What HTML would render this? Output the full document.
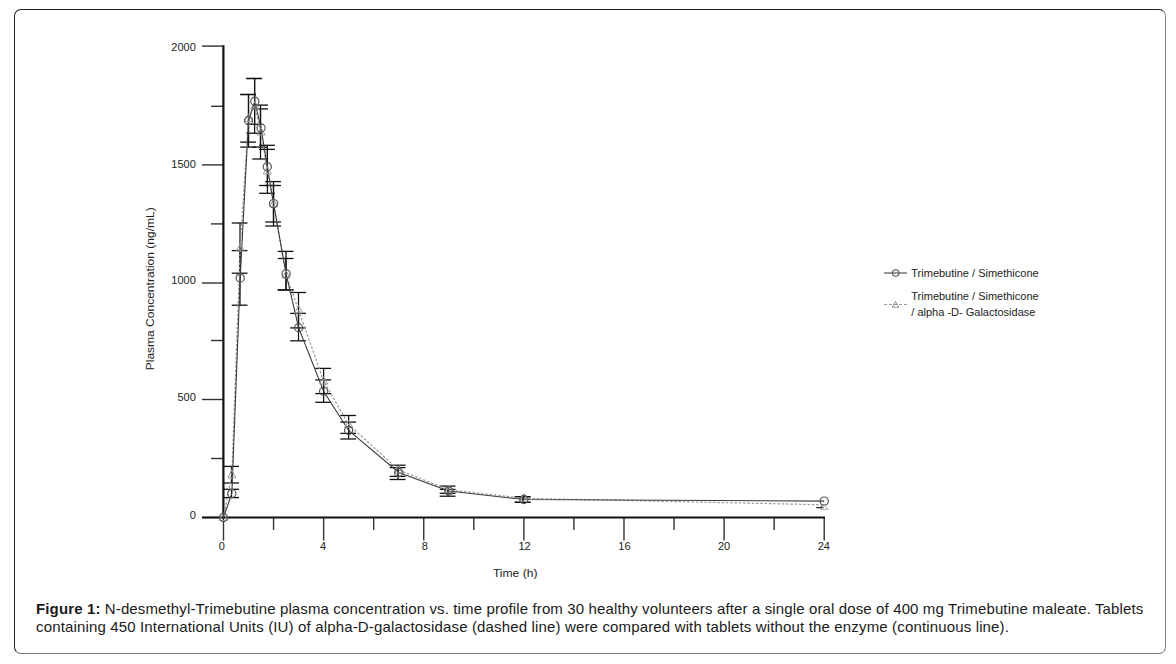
<!DOCTYPE html>
<html><head><meta charset="utf-8">
<style>
html,body{margin:0;padding:0;background:#fff;width:1176px;height:664px;overflow:hidden;}
.box{position:absolute;left:14px;top:9px;width:1152px;height:645px;box-sizing:border-box;border:1px solid;border-color:#222 #808080 #777 #222;border-radius:7px;}
svg{position:absolute;left:0;top:0;}
.tk{font-family:"Liberation Sans",sans-serif;font-size:11px;fill:#222;}
.lg{font-family:"Liberation Sans",sans-serif;font-size:11px;fill:#222;}
.ax{font-family:"Liberation Sans",sans-serif;font-size:11px;fill:#222;}
.cap{position:absolute;left:36px;top:599.7px;font-family:"Liberation Sans",sans-serif;font-size:15px;line-height:18px;letter-spacing:0.13px;color:#1a1a1a;white-space:nowrap;}
</style></head><body>
<div class="box"></div>
<svg width="1176" height="664" viewBox="0 0 1176 664">
<line x1="202" y1="46.10" x2="223.5" y2="46.10" stroke="#333" stroke-width="1.4"/>
<text x="195.8" y="50.80" text-anchor="end" class="tk">2000</text>
<line x1="202" y1="164.90" x2="223.5" y2="164.90" stroke="#333" stroke-width="1.4"/>
<text x="195.8" y="168.40" text-anchor="end" class="tk">1500</text>
<line x1="202" y1="283.00" x2="223.5" y2="283.00" stroke="#333" stroke-width="1.4"/>
<text x="195.8" y="283.90" text-anchor="end" class="tk">1000</text>
<line x1="202" y1="399.50" x2="223.5" y2="399.50" stroke="#333" stroke-width="1.4"/>
<text x="195.8" y="400.90" text-anchor="end" class="tk">500</text>
<line x1="202" y1="517.50" x2="223.5" y2="517.50" stroke="#333" stroke-width="1.4"/>
<text x="195.8" y="519.20" text-anchor="end" class="tk">0</text>
<line x1="211" y1="106.30" x2="223.5" y2="106.30" stroke="#333" stroke-width="1.4"/>
<line x1="211" y1="223.90" x2="223.5" y2="223.90" stroke="#333" stroke-width="1.4"/>
<line x1="211" y1="340.50" x2="223.5" y2="340.50" stroke="#333" stroke-width="1.4"/>
<line x1="211" y1="458.50" x2="223.5" y2="458.50" stroke="#333" stroke-width="1.4"/>
<line x1="223.50" y1="517.5" x2="223.50" y2="540.6" stroke="#333" stroke-width="1.4"/>
<text x="221.90" y="549.7" text-anchor="middle" class="tk">0</text>
<line x1="273.56" y1="517.5" x2="273.56" y2="530" stroke="#333" stroke-width="1.4"/>
<line x1="323.62" y1="517.5" x2="323.62" y2="540.6" stroke="#333" stroke-width="1.4"/>
<text x="323.00" y="549.7" text-anchor="middle" class="tk">4</text>
<line x1="373.68" y1="517.5" x2="373.68" y2="530" stroke="#333" stroke-width="1.4"/>
<line x1="423.74" y1="517.5" x2="423.74" y2="540.6" stroke="#333" stroke-width="1.4"/>
<text x="424.90" y="549.7" text-anchor="middle" class="tk">8</text>
<line x1="473.80" y1="517.5" x2="473.80" y2="530" stroke="#333" stroke-width="1.4"/>
<line x1="523.86" y1="517.5" x2="523.86" y2="540.6" stroke="#333" stroke-width="1.4"/>
<text x="524.50" y="549.7" text-anchor="middle" class="tk">12</text>
<line x1="573.92" y1="517.5" x2="573.92" y2="530" stroke="#333" stroke-width="1.4"/>
<line x1="623.98" y1="517.5" x2="623.98" y2="540.6" stroke="#333" stroke-width="1.4"/>
<text x="624.40" y="549.7" text-anchor="middle" class="tk">16</text>
<line x1="674.04" y1="517.5" x2="674.04" y2="530" stroke="#333" stroke-width="1.4"/>
<line x1="724.10" y1="517.5" x2="724.10" y2="540.6" stroke="#333" stroke-width="1.4"/>
<text x="724.00" y="549.7" text-anchor="middle" class="tk">20</text>
<line x1="774.16" y1="517.5" x2="774.16" y2="530" stroke="#333" stroke-width="1.4"/>
<line x1="824.22" y1="517.5" x2="824.22" y2="540.6" stroke="#333" stroke-width="1.4"/>
<text x="823.80" y="549.7" text-anchor="middle" class="tk">24</text>
<line x1="223.4" y1="45.2" x2="223.4" y2="518.5" stroke="#111" stroke-width="2.2"/>
<line x1="202" y1="517.5" x2="825" y2="517.5" stroke="#111" stroke-width="2"/>
<line x1="231.50" y1="489.30" x2="231.50" y2="497.60" stroke="#111" stroke-width="1.25"/>
<line x1="223.20" y1="489.30" x2="239.00" y2="489.30" stroke="#111" stroke-width="1.3"/>
<line x1="223.20" y1="497.60" x2="239.00" y2="497.60" stroke="#111" stroke-width="1.3"/>
<line x1="240.00" y1="250.60" x2="240.00" y2="305.20" stroke="#111" stroke-width="1.25"/>
<line x1="231.70" y1="250.60" x2="247.50" y2="250.60" stroke="#111" stroke-width="1.3"/>
<line x1="231.70" y1="305.20" x2="247.50" y2="305.20" stroke="#111" stroke-width="1.3"/>
<line x1="248.50" y1="94.50" x2="248.50" y2="147.10" stroke="#111" stroke-width="1.25"/>
<line x1="240.20" y1="94.50" x2="256.00" y2="94.50" stroke="#111" stroke-width="1.3"/>
<line x1="240.20" y1="147.10" x2="256.00" y2="147.10" stroke="#111" stroke-width="1.3"/>
<line x1="254.60" y1="78.50" x2="254.60" y2="124.30" stroke="#111" stroke-width="1.25"/>
<line x1="246.30" y1="78.50" x2="262.10" y2="78.50" stroke="#111" stroke-width="1.3"/>
<line x1="246.30" y1="124.30" x2="262.10" y2="124.30" stroke="#111" stroke-width="1.3"/>
<line x1="260.50" y1="108.90" x2="260.50" y2="147.10" stroke="#111" stroke-width="1.25"/>
<line x1="252.20" y1="108.90" x2="268.00" y2="108.90" stroke="#111" stroke-width="1.3"/>
<line x1="252.20" y1="147.10" x2="268.00" y2="147.10" stroke="#111" stroke-width="1.3"/>
<line x1="267.40" y1="145.30" x2="267.40" y2="185.50" stroke="#111" stroke-width="1.25"/>
<line x1="259.10" y1="145.30" x2="274.90" y2="145.30" stroke="#111" stroke-width="1.3"/>
<line x1="259.10" y1="185.50" x2="274.90" y2="185.50" stroke="#111" stroke-width="1.3"/>
<line x1="273.50" y1="185.50" x2="273.50" y2="222.00" stroke="#111" stroke-width="1.25"/>
<line x1="265.20" y1="185.50" x2="281.00" y2="185.50" stroke="#111" stroke-width="1.3"/>
<line x1="265.20" y1="222.00" x2="281.00" y2="222.00" stroke="#111" stroke-width="1.3"/>
<line x1="286.00" y1="258.50" x2="286.00" y2="289.80" stroke="#111" stroke-width="1.25"/>
<line x1="277.70" y1="258.50" x2="293.50" y2="258.50" stroke="#111" stroke-width="1.3"/>
<line x1="277.70" y1="289.80" x2="293.50" y2="289.80" stroke="#111" stroke-width="1.3"/>
<line x1="298.50" y1="313.40" x2="298.50" y2="340.80" stroke="#111" stroke-width="1.25"/>
<line x1="290.20" y1="313.40" x2="306.00" y2="313.40" stroke="#111" stroke-width="1.3"/>
<line x1="290.20" y1="340.80" x2="306.00" y2="340.80" stroke="#111" stroke-width="1.3"/>
<line x1="323.60" y1="379.90" x2="323.60" y2="402.30" stroke="#111" stroke-width="1.25"/>
<line x1="315.30" y1="379.90" x2="331.10" y2="379.90" stroke="#111" stroke-width="1.3"/>
<line x1="315.30" y1="402.30" x2="331.10" y2="402.30" stroke="#111" stroke-width="1.3"/>
<line x1="348.60" y1="422.10" x2="348.60" y2="439.00" stroke="#111" stroke-width="1.25"/>
<line x1="340.30" y1="422.10" x2="356.10" y2="422.10" stroke="#111" stroke-width="1.3"/>
<line x1="340.30" y1="439.00" x2="356.10" y2="439.00" stroke="#111" stroke-width="1.3"/>
<line x1="398.00" y1="467.60" x2="398.00" y2="476.40" stroke="#111" stroke-width="1.25"/>
<line x1="389.70" y1="467.60" x2="405.50" y2="467.60" stroke="#111" stroke-width="1.3"/>
<line x1="389.70" y1="476.40" x2="405.50" y2="476.40" stroke="#111" stroke-width="1.3"/>
<line x1="448.00" y1="486.10" x2="448.00" y2="496.20" stroke="#111" stroke-width="1.25"/>
<line x1="439.70" y1="486.10" x2="455.50" y2="486.10" stroke="#111" stroke-width="1.3"/>
<line x1="439.70" y1="496.20" x2="455.50" y2="496.20" stroke="#111" stroke-width="1.3"/>
<line x1="523.00" y1="496.70" x2="523.00" y2="502.30" stroke="#111" stroke-width="1.25"/>
<line x1="514.70" y1="496.70" x2="530.50" y2="496.70" stroke="#111" stroke-width="1.3"/>
<line x1="514.70" y1="502.30" x2="530.50" y2="502.30" stroke="#111" stroke-width="1.3"/>
<line x1="231.50" y1="466.40" x2="231.50" y2="483.00" stroke="#111" stroke-width="1.25"/>
<line x1="223.20" y1="466.40" x2="239.00" y2="466.40" stroke="#111" stroke-width="1.3"/>
<line x1="223.20" y1="483.00" x2="239.00" y2="483.00" stroke="#111" stroke-width="1.3"/>
<line x1="240.00" y1="223.00" x2="240.00" y2="273.20" stroke="#111" stroke-width="1.25"/>
<line x1="231.70" y1="223.00" x2="247.50" y2="223.00" stroke="#111" stroke-width="1.3"/>
<line x1="231.70" y1="273.20" x2="247.50" y2="273.20" stroke="#111" stroke-width="1.3"/>
<line x1="248.50" y1="94.50" x2="248.50" y2="142.10" stroke="#111" stroke-width="1.25"/>
<line x1="240.20" y1="94.50" x2="256.00" y2="94.50" stroke="#111" stroke-width="1.3"/>
<line x1="240.20" y1="142.10" x2="256.00" y2="142.10" stroke="#111" stroke-width="1.3"/>
<line x1="254.60" y1="78.50" x2="254.60" y2="133.20" stroke="#111" stroke-width="1.25"/>
<line x1="246.30" y1="78.50" x2="262.10" y2="78.50" stroke="#111" stroke-width="1.3"/>
<line x1="246.30" y1="133.20" x2="262.10" y2="133.20" stroke="#111" stroke-width="1.3"/>
<line x1="260.50" y1="105.10" x2="260.50" y2="159.00" stroke="#111" stroke-width="1.25"/>
<line x1="252.20" y1="105.10" x2="268.00" y2="105.10" stroke="#111" stroke-width="1.3"/>
<line x1="252.20" y1="159.00" x2="268.00" y2="159.00" stroke="#111" stroke-width="1.3"/>
<line x1="267.40" y1="149.40" x2="267.40" y2="193.30" stroke="#111" stroke-width="1.25"/>
<line x1="259.10" y1="149.40" x2="274.90" y2="149.40" stroke="#111" stroke-width="1.3"/>
<line x1="259.10" y1="193.30" x2="274.90" y2="193.30" stroke="#111" stroke-width="1.3"/>
<line x1="273.50" y1="181.60" x2="273.50" y2="226.00" stroke="#111" stroke-width="1.25"/>
<line x1="265.20" y1="181.60" x2="281.00" y2="181.60" stroke="#111" stroke-width="1.3"/>
<line x1="265.20" y1="226.00" x2="281.00" y2="226.00" stroke="#111" stroke-width="1.3"/>
<line x1="286.00" y1="251.40" x2="286.00" y2="290.10" stroke="#111" stroke-width="1.25"/>
<line x1="277.70" y1="251.40" x2="293.50" y2="251.40" stroke="#111" stroke-width="1.3"/>
<line x1="277.70" y1="290.10" x2="293.50" y2="290.10" stroke="#111" stroke-width="1.3"/>
<line x1="298.50" y1="292.50" x2="298.50" y2="327.90" stroke="#111" stroke-width="1.25"/>
<line x1="290.20" y1="292.50" x2="306.00" y2="292.50" stroke="#111" stroke-width="1.3"/>
<line x1="290.20" y1="327.90" x2="306.00" y2="327.90" stroke="#111" stroke-width="1.3"/>
<line x1="323.60" y1="368.40" x2="323.60" y2="393.60" stroke="#111" stroke-width="1.25"/>
<line x1="315.30" y1="368.40" x2="331.10" y2="368.40" stroke="#111" stroke-width="1.3"/>
<line x1="315.30" y1="393.60" x2="331.10" y2="393.60" stroke="#111" stroke-width="1.3"/>
<line x1="348.60" y1="415.50" x2="348.60" y2="433.40" stroke="#111" stroke-width="1.25"/>
<line x1="340.30" y1="415.50" x2="356.10" y2="415.50" stroke="#111" stroke-width="1.3"/>
<line x1="340.30" y1="433.40" x2="356.10" y2="433.40" stroke="#111" stroke-width="1.3"/>
<line x1="398.00" y1="465.20" x2="398.00" y2="479.50" stroke="#111" stroke-width="1.25"/>
<line x1="389.70" y1="465.20" x2="405.50" y2="465.20" stroke="#111" stroke-width="1.3"/>
<line x1="389.70" y1="479.50" x2="405.50" y2="479.50" stroke="#111" stroke-width="1.3"/>
<line x1="448.00" y1="489.40" x2="448.00" y2="493.30" stroke="#111" stroke-width="1.25"/>
<line x1="439.70" y1="489.40" x2="455.50" y2="489.40" stroke="#111" stroke-width="1.3"/>
<line x1="439.70" y1="493.30" x2="455.50" y2="493.30" stroke="#111" stroke-width="1.3"/>
<line x1="523.00" y1="496.70" x2="523.00" y2="502.30" stroke="#111" stroke-width="1.25"/>
<line x1="514.70" y1="496.70" x2="530.50" y2="496.70" stroke="#111" stroke-width="1.3"/>
<line x1="514.70" y1="502.30" x2="530.50" y2="502.30" stroke="#111" stroke-width="1.3"/>
<polyline points="223.50,517.50 231.84,474.70 240.19,248.10 248.53,118.30 254.79,105.90 261.05,132.00 267.30,171.00 273.56,203.80 286.07,275.00 298.59,310.00 323.62,381.00 348.65,424.50 398.71,470.00 448.77,489.80 523.86,498.30 824.22,504.80" fill="none" stroke="#999" stroke-width="1.2" stroke-dasharray="2.5,1.8"/>
<polyline points="223.50,517.50 231.84,493.50 240.19,277.90 248.53,120.50 254.79,101.20 261.05,128.00 267.30,166.80 273.56,203.60 286.07,273.80 298.59,327.70 323.62,391.20 348.65,430.50 398.71,472.50 448.77,491.00 523.86,499.50 824.22,501.10" fill="none" stroke="#3a3a3a" stroke-width="1.1"/>
<polygon points="223.50,513.00 227.50,520.50 219.50,520.50" fill="none" stroke="#999" stroke-width="1"/>
<polygon points="231.84,470.20 235.84,477.70 227.84,477.70" fill="none" stroke="#999" stroke-width="1"/>
<polygon points="240.19,243.60 244.19,251.10 236.19,251.10" fill="none" stroke="#999" stroke-width="1"/>
<polygon points="248.53,113.80 252.53,121.30 244.53,121.30" fill="none" stroke="#999" stroke-width="1"/>
<polygon points="254.79,101.40 258.79,108.90 250.79,108.90" fill="none" stroke="#999" stroke-width="1"/>
<polygon points="261.05,127.50 265.05,135.00 257.05,135.00" fill="none" stroke="#999" stroke-width="1"/>
<polygon points="267.30,166.50 271.30,174.00 263.30,174.00" fill="none" stroke="#999" stroke-width="1"/>
<polygon points="273.56,199.30 277.56,206.80 269.56,206.80" fill="none" stroke="#999" stroke-width="1"/>
<polygon points="286.07,270.50 290.07,278.00 282.07,278.00" fill="none" stroke="#999" stroke-width="1"/>
<polygon points="298.59,305.50 302.59,313.00 294.59,313.00" fill="none" stroke="#999" stroke-width="1"/>
<polygon points="323.62,376.50 327.62,384.00 319.62,384.00" fill="none" stroke="#999" stroke-width="1"/>
<polygon points="348.65,420.00 352.65,427.50 344.65,427.50" fill="none" stroke="#999" stroke-width="1"/>
<polygon points="398.71,465.50 402.71,473.00 394.71,473.00" fill="none" stroke="#999" stroke-width="1"/>
<polygon points="448.77,485.30 452.77,492.80 444.77,492.80" fill="none" stroke="#999" stroke-width="1"/>
<polygon points="523.86,493.80 527.86,501.30 519.86,501.30" fill="none" stroke="#999" stroke-width="1"/>
<circle cx="223.50" cy="517.50" r="4.1" fill="none" stroke="#555" stroke-width="1.2"/>
<circle cx="231.84" cy="493.50" r="4.1" fill="none" stroke="#555" stroke-width="1.2"/>
<circle cx="240.19" cy="277.90" r="4.1" fill="none" stroke="#555" stroke-width="1.2"/>
<circle cx="248.53" cy="120.50" r="4.1" fill="none" stroke="#555" stroke-width="1.2"/>
<circle cx="254.79" cy="101.20" r="4.1" fill="none" stroke="#555" stroke-width="1.2"/>
<circle cx="261.05" cy="128.00" r="4.1" fill="none" stroke="#555" stroke-width="1.2"/>
<circle cx="267.30" cy="166.80" r="4.1" fill="none" stroke="#555" stroke-width="1.2"/>
<circle cx="273.56" cy="203.60" r="4.1" fill="none" stroke="#555" stroke-width="1.2"/>
<circle cx="286.07" cy="273.80" r="4.1" fill="none" stroke="#555" stroke-width="1.2"/>
<circle cx="298.59" cy="327.70" r="4.1" fill="none" stroke="#555" stroke-width="1.2"/>
<circle cx="323.62" cy="391.20" r="4.1" fill="none" stroke="#555" stroke-width="1.2"/>
<circle cx="348.65" cy="430.50" r="4.1" fill="none" stroke="#555" stroke-width="1.2"/>
<circle cx="398.71" cy="472.50" r="4.1" fill="none" stroke="#555" stroke-width="1.2"/>
<circle cx="448.77" cy="491.00" r="4.1" fill="none" stroke="#555" stroke-width="1.2"/>
<circle cx="523.86" cy="499.50" r="4.1" fill="none" stroke="#555" stroke-width="1.2"/>
<circle cx="824.22" cy="501.10" r="4.1" fill="none" stroke="#555" stroke-width="1.2"/>
<line x1="816.2" y1="507.6" x2="823.5" y2="507.6" stroke="#222" stroke-width="1.3"/>
<line x1="821.4" y1="505.8" x2="821.4" y2="509" stroke="#222" stroke-width="1"/>
<polygon points="824.3,505.3 828.3,509.3 820.3,509.3" fill="none" stroke="#aaa" stroke-width="1"/>
<line x1="884" y1="273" x2="907" y2="273" stroke="#555" stroke-width="1.2"/>
<circle cx="895.7" cy="273" r="3.2" fill="none" stroke="#555" stroke-width="1.1"/>
<text x="911.3" y="276.7" class="lg">Trimebutine / Simethicone</text>
<line x1="884" y1="304.5" x2="907" y2="304.5" stroke="#999" stroke-width="1" stroke-dasharray="3,2"/>
<polygon points="895.5,301.5 898.7,307.2 892.3,307.2" fill="none" stroke="#888" stroke-width="1"/>
<text x="911.3" y="299.7" class="lg">Trimebutine / Simethicone</text>
<text x="911.3" y="315.5" class="lg">/ alpha -D- Galactosidase</text>
<text x="492.9" y="576.9" class="ax" id="xt" textLength="44.6" lengthAdjust="spacingAndGlyphs">Time (h)</text>
<text transform="translate(154,370.3) rotate(-90)" x="0" y="0" class="ax" id="yt" textLength="163" lengthAdjust="spacingAndGlyphs">Plasma Concentration (ng/mL)</text>
</svg>
<div class="cap"><b>Figure 1:</b> N-desmethyl-Trimebutine plasma concentration vs. time profile from 30 healthy volunteers after a single oral dose of 400 mg Trimebutine maleate. Tablets<br><span style="letter-spacing:0.152px">containing 450 International Units (IU) of alpha-D-galactosidase (dashed line) were compared with tablets without the enzyme (continuous line).</span></div>
</body></html>
